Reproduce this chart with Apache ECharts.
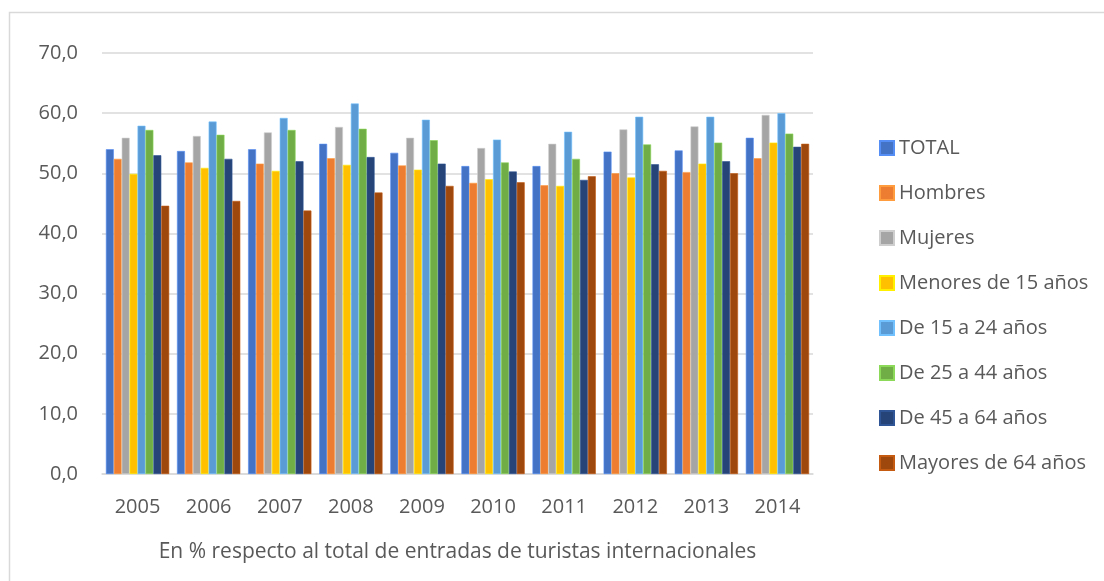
<!DOCTYPE html>
<html>
<head>
<meta charset="utf-8">
<script src="https://cdn.jsdelivr.net/npm/echarts@6/dist/echarts.min.js"></script>
<style>
  html, body { margin: 0; padding: 0; background: #fff; }
  #chart { width: 1104px; height: 581px; }
</style>
</head>
<body>
<div id="chart"></div>
<script>
// años
var years = ['2005', '2006', '2007', '2008', '2009', '2010', '2011', '2012', '2013', '2014']
var seriesNames = ['TOTAL', 'Hombres', 'Mujeres', 'Menores de 15 años', 'De 15 a 24 años',
  'De 25 a 44 años', 'De 45 a 64 años', 'Mayores de 64 años']

var total = [54.0, 53.7, 54.0, 54.9, 53.4, 51.2, 51.2, 53.6, 53.8, 55.9]
var hombres = [52.4, 51.8, 51.6, 52.5, 51.3, 48.4, 48.0, 50.0, 50.2, 52.5]
var mujeres = [55.9, 56.2, 56.8, 57.7, 55.9, 54.2, 54.9, 57.3, 57.8, 59.7]
var menores15 = [49.9, 50.9, 50.4, 51.4, 50.6, 49.0, 47.9, 49.3, 51.6, 55.1]
var de15a24 = [57.9, 58.6, 59.2, 61.6, 58.9, 55.6, 56.9, 59.4, 59.4, 60.0]
var de25a44 = [57.2, 56.4, 57.2, 57.4, 55.5, 51.8, 52.4, 54.8, 55.1, 56.6]
var de45a64 = [53.0, 52.4, 52.0, 52.7, 51.6, 50.3, 48.9, 51.5, 52.0, 54.4]
var mayores64 = [44.6, 45.4, 43.8, 46.8, 47.9, 48.5, 49.5, 50.4, 50.0, 54.9]

var colors = ['#4472C4', '#ED7D31', '#A5A5A5', '#FFC000', '#5B9BD5', '#70AD47', '#264478', '#9E480E']
var allData = [total, hombres, mujeres, menores15, de15a24, de25a44, de45a64, mayores64]

var font = '"Open Sans", "Liberation Sans", sans-serif'
var textColor = '#595959'

var chart = echarts.init(document.getElementById('chart'))

var series = seriesNames.map(function (name, i) {
  return {
    name: name,
    type: 'bar',
    data: allData[i],
    barGap: '0%',
    barCategoryGap: '11%',
    itemStyle: {
      color: colors[i],
      borderColor: echarts.color.lift(colors[i], -0.25),
      borderWidth: 0.6
    }
  }
})

chart.setOption({
  animation: false,
  color: colors,
  textStyle: { fontFamily: font },
  graphic: [{
    type: 'rect',
    shape: { x: 9.5, y: 12.5, width: 1110, height: 600 },
    style: { fill: 'none', stroke: '#d9d9d9', lineWidth: 1.5 },
    silent: true
  }],
  grid: {
    left: 102,
    right: 291,
    top: 53,
    bottom: 107
  },
  legend: {
    orient: 'vertical',
    left: 874,
    top: 133,
    itemWidth: 14,
    itemHeight: 14,
    itemGap: 25,
    icon: 'rect',
    data: seriesNames,
    textStyle: { fontSize: 20, color: textColor, fontFamily: font }
  },
  xAxis: {
    type: 'category',
    data: years,
    name: 'En % respecto al total de entradas de turistas internacionales',
    nameLocation: 'middle',
    nameGap: 68,
    nameTextStyle: { fontSize: 21, color: textColor },
    axisLine: { lineStyle: { color: '#d9d9d9', width: 1.5 } },
    axisTick: { show: false },
    axisLabel: { fontSize: 20, color: textColor, margin: 23 }
  },
  yAxis: {
    type: 'value',
    min: 0,
    max: 70,
    interval: 10,
    axisLine: { show: false },
    axisTick: { show: false },
    splitLine: { lineStyle: { color: '#d9d9d9', width: 1.5 } },
    axisLabel: {
      fontSize: 20,
      color: textColor,
      margin: 24,
      formatter: function (v) { return v.toFixed(1).replace('.', ',') }
    }
  },
  series: series
})
</script>
</body>
</html>
